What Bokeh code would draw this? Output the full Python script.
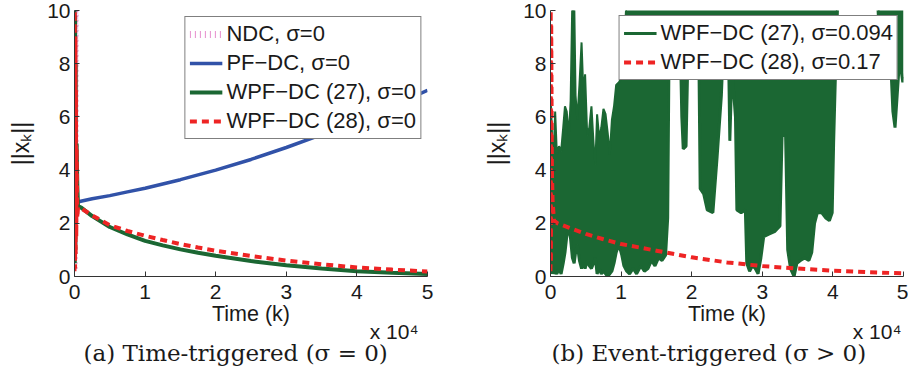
from bokeh.plotting import figure
from bokeh.models import Range1d, FixedTicker, Legend, LegendItem, Title
from bokeh.layouts import row
from bokeh.embed import file_html
from bokeh.resources import INLINE

# ---------------- data (time in units of 10^4 steps) ----------------
x_ticks = [0, 1, 2, 3, 4, 5]
y_ticks = [0, 2, 4, 6, 8, 10]

# panel (a): time-triggered, sigma = 0
t_ndc = [0.0, 0.004, 0.008, 0.012, 0.016]
ndc = [0.3, 10.5, 2.0, 14.0, 30.0]

t_pf = [0.04, 0.25, 0.5, 0.75, 1.0, 1.5, 2.0, 2.5, 3.0, 3.5, 4.0, 4.5, 5.0]
pf = [2.8, 2.92, 3.04, 3.18, 3.32, 3.64, 4.0, 4.4, 4.85, 5.33, 5.85, 6.4, 7.0]

t_w27a = [0.0, 0.004, 0.008, 0.012, 0.016, 0.02, 0.03, 0.04, 0.05, 0.1, 0.25,
          0.5, 0.75, 1.0, 1.25, 1.5, 1.75, 2.0, 2.5, 3.0, 3.5, 4.0, 4.5, 5.0]
w27a = [10.0, 0.5, 9.8, 1.0, 8.0, 2.0, 5.0, 3.4, 2.65, 2.58, 2.27,
        1.86, 1.58, 1.34, 1.17, 1.02, 0.89, 0.78, 0.58, 0.42, 0.3, 0.2, 0.14, 0.09]

t_w28a = [0.0, 0.004, 0.008, 0.012, 0.016, 0.02, 0.025, 0.03, 0.04, 0.05, 0.1,
          0.25, 0.5, 0.75, 1.0, 1.25, 1.5, 1.75, 2.0, 2.5, 3.0, 3.5, 4.0, 4.5, 5.0]
w28a = [0.2, 10.0, 0.3, 9.0, 0.8, 7.0, 1.5, 4.8, 2.2, 2.6, 2.55,
        2.3, 1.93, 1.71, 1.53, 1.37, 1.22, 1.09, 0.97, 0.77, 0.6, 0.46, 0.34, 0.26, 0.19]

# panel (b): event-triggered, sigma > 0
# WPF-DC (27): envelope of the fast oscillation (lower / upper value)
t_w27b = [0.005, 0.03, 0.05, 0.066, 0.09, 0.12, 0.15, 0.18, 0.205, 0.23, 0.26,
          0.285, 0.31, 0.335, 0.355, 0.38, 0.41, 0.44, 0.465, 0.49, 0.52, 0.55,
          0.58, 0.61, 0.635, 0.66, 0.69, 0.72, 0.75, 0.78, 0.81, 0.84, 0.87,
          0.9, 0.93, 0.97, 1.01, 1.04, 1.08, 1.12, 1.17, 1.22, 1.28, 1.33,
          1.38, 1.43, 1.48, 1.53, 1.58, 1.63, 1.66, 1.68, 1.76, 1.84, 1.86,
          1.88, 1.92, 1.94, 1.96, 2.1, 2.12, 2.17, 2.22, 2.3, 2.36, 2.42,
          2.45, 2.52, 2.54, 2.57, 2.62, 2.64, 2.7, 2.76, 2.78, 2.82, 2.86,
          2.9, 2.94, 2.98, 3.02, 3.1, 3.18, 3.25, 3.28, 3.33, 3.36, 3.4,
          3.45, 3.49, 3.54, 3.6, 3.66, 3.7, 3.74, 3.78, 3.84, 3.9, 3.95,
          3.99, 4.01, 4.04, 4.07, 4.63, 4.66, 4.75, 4.82, 4.85, 4.88, 4.91,
          4.94, 4.97, 4.99, 5.0]
lo_w27b = [0.1, 0.4, 0.1, 0.2, 0.1, 0.3, 0.1, 0.5, 0.9, 1.5, 1.9,
           1.4, 0.7, 0.5, 0.9, 1.2, 0.6, 0.3, 0.5, 0.3, 0.6, 0.4,
           0.3, 0.5, 0.7, 0.1, 0.3, 0.1, 0.2, 0.1, 0.0, 0.1, 0.2,
           0.5, 0.9, 1.2, 0.8, 0.4, 0.2, 0.1, 0.3, 0.1, 0.4, 0.2,
           0.3, 0.6, 0.4, 0.7, 0.6, 0.8, 2.2, 8.8, 9.2, 8.6, 6.0,
           4.8, 4.9, 7.5, 9.0, 8.8, 3.3, 3.1, 2.5, 2.4, 4.5, 6.8,
           8.8, 8.8, 5.1, 7.8, 6.0, 2.5, 2.4, 2.5, 0.5, 0.2, 0.4,
           0.3, 0.1, 0.7, 1.5, 1.6, 1.7, 1.9, 5.3, 5.3, 1.0, 0.3,
           0.0, 0.5, 0.6, 0.7, 0.6, 0.9, 2.0, 2.4, 2.4, 2.2, 2.1,
           2.4, 5.0, 8.0, 10.5, 10.5, 9.0, 8.6, 8.0, 6.2, 5.6, 6.8,
           8.0, 7.7, 7.3, 7.5]
hi_w27b = [6.6, 4.7, 5.0, 6.2, 4.6, 4.9, 4.7, 5.6, 6.4, 6.2, 5.3,
           6.6, 10.5, 10.5, 6.8, 5.9, 7.2, 8.8, 6.9, 7.6, 5.3, 5.6,
           6.4, 5.0, 4.2, 6.1, 5.2, 5.6, 6.3, 6.1, 5.4, 4.6, 5.9,
           6.4, 7.2, 7.3, 7.5, 8.6] + [10.5] * 76

t_w28b = [0.0, 0.003, 0.006, 0.01, 0.02, 0.03, 0.05, 0.1, 0.25, 0.5, 0.75,
          1.0, 1.5, 2.0, 2.5, 3.0, 3.5, 4.0, 4.5, 5.0]
w28b = [0.2, 10.0, 0.5, 9.5, 4.0, 2.8, 2.1, 2.0, 1.85, 1.6, 1.4,
        1.22, 0.97, 0.72, 0.53, 0.39, 0.3, 0.22, 0.16, 0.12]

# ---------------- style ----------------
SANS = "Liberation Sans"
SERIF = "DejaVu Serif"
BLUE = "#3152a8"
GREEN = "#1b6733"
RED = "#ee2424"
PINK = "#e070c0"
TXT = "#1a1a1a"


def make_fig(border_left, border_right, frame_width):
    p = figure(frame_width=frame_width, frame_height=266,
               min_border_left=border_left, min_border_right=border_right,
               min_border_top=10, min_border_bottom=106,
               x_range=Range1d(0, 5), y_range=Range1d(0, 10),
               output_backend="svg", toolbar_location=None)
    p.outline_line_color = None
    p.xgrid.visible = False
    p.ygrid.visible = False
    p.background_fill_color = "white"
    p.border_fill_color = "white"
    p.xaxis.ticker = FixedTicker(ticks=x_ticks)
    p.yaxis.ticker = FixedTicker(ticks=y_ticks)
    for ax in (p.xaxis[0], p.yaxis[0]):
        ax.axis_line_color = "#333333"
        ax.major_tick_line_color = "#333333"
        ax.major_tick_in = 5
        ax.major_tick_out = 0
        ax.minor_tick_line_color = None
        ax.major_label_text_font = SANS
        ax.major_label_text_font_size = "21px"
        ax.major_label_text_color = TXT
        ax.axis_label_text_font = SANS
        ax.axis_label_text_font_style = "normal"
        ax.axis_label_text_color = TXT
    p.yaxis.major_label_standoff = 4
    p.xaxis.major_label_standoff = 8
    p.xaxis.axis_label = "Time (k)"
    p.xaxis.axis_label_text_font_size = "21.5px"
    p.xaxis.axis_label_standoff = 0
    p.yaxis.axis_label = "||xₖ||"
    p.yaxis.axis_label_text_font_size = "23px"
    p.yaxis.axis_label_standoff = 10
    return p


def add_texts(p, off_x10, off_cap, caption):
    p.add_layout(Title(text="x 10⁴", align="right", offset=off_x10, standoff=-21,
                       text_font=SANS, text_font_size="21px",
                       text_font_style="normal", text_color=TXT), "below")
    p.add_layout(Title(text=caption, align="left", offset=off_cap, standoff=11,
                       text_font=SERIF, text_font_size="23px",
                       text_font_style="normal", text_color=TXT), "below")


def make_legend(items, margin):
    return Legend(items=items, location="top_right", margin=margin, padding=4,
                  spacing=3, label_height=26, glyph_height=26, glyph_width=33,
                  label_standoff=4, label_text_font=SANS,
                  label_text_font_size="22px", label_text_color=TXT,
                  border_line_color="black", border_line_width=1,
                  background_fill_color="white", background_fill_alpha=1.0)


# ---------------- panel (a) ----------------
pa = make_fig(74, 31, 353)
r_ndc = pa.line(t_ndc, ndc, line_color=PINK, line_width=7, line_dash="1 4", line_alpha=0.8)
r_pf = pa.line(t_pf, pf, line_color=BLUE, line_width=3.5)
r_w27a = pa.line(t_w27a, w27a, line_color=GREEN, line_width=4)
r_w28a = pa.line(t_w28a, w28a, line_color=RED, line_width=4, line_dash="7 5")
pa.add_layout(make_legend([
    LegendItem(label="NDC, σ=0", renderers=[r_ndc]),
    LegendItem(label="PF−DC, σ=0", renderers=[r_pf]),
    LegendItem(label="WPF−DC (27), σ=0", renderers=[r_w27a]),
    LegendItem(label="WPF−DC (28), σ=0", renderers=[r_w28a]),
], 6))
add_texts(pa, 9, 9, "(a) Time-triggered (σ = 0)")

# ---------------- panel (b) ----------------
pb = make_fig(92, 5, 353)
pb.varea(x=t_w27b, y1=lo_w27b, y2=hi_w27b, fill_color=GREEN)
r_w27b = pb.line(t_w27b, lo_w27b, line_color=GREEN, line_width=3)
pb.line(t_w27b, hi_w27b, line_color=GREEN, line_width=2)
r_w28b = pb.line(t_w28b, w28b, line_color=RED, line_width=4, line_dash="7 5")
pb.add_layout(make_legend([
    LegendItem(label="WPF−DC (27), σ=0.094", renderers=[r_w27b]),
    LegendItem(label="WPF−DC (28), σ=0.17", renderers=[r_w28b]),
], 5))
add_texts(pb, 2, 1, "(b) Event-triggered (σ > 0)")

layout = row(pa, pb, spacing=0)
open("out.html", "w").write(file_html(layout, INLINE))
